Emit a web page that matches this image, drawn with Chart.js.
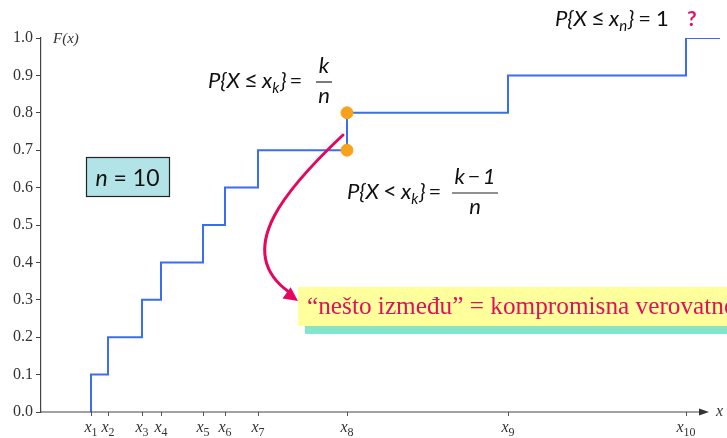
<!DOCTYPE html>
<html>
<head>
<meta charset="utf-8">
<script src="https://cdn.jsdelivr.net/npm/chart.js@4.4.1/dist/chart.umd.min.js"></script>
<style>
  html, body { margin: 0; padding: 0; background: #ffffff; }
  #c { display: block; }
</style>
</head>
<body>
<canvas id="c" width="727" height="438"></canvas>
<script>
// ---- data ----
const xPositions   = [50, 67, 101, 120, 162, 184, 217, 306, 467, 645]; // x1..x10 along the axis
const cdfValues    = [0.1, 0.2, 0.3, 0.4, 0.5, 0.6, 0.7, 0.8, 0.9, 1.0];
const xTickLabels  = ['1', '2', '3', '4', '5', '6', '7', '8', '9', '10'];
const yTickValues  = [0, 0.1, 0.2, 0.3, 0.4, 0.5, 0.6, 0.7, 0.8, 0.9, 1.0];
const highlightIndex  = 7;            // x8
const highlightValues = [0.7, 0.8];   // F just before and at x8
const xAxisMax = 679;

const stepData = [{ x: xPositions[0], y: 0 }]
  .concat(xPositions.map((x, i) => ({ x: x, y: cdfValues[i] })))
  .concat([{ x: xAxisMax, y: cdfValues[cdfValues.length - 1] }]);
const pointData = highlightValues.map(v => ({ x: xPositions[highlightIndex], y: v }));

const MATH = 'Lato';
const SERIF = '"Liberation Serif"';

function runs(ctx, x, y, parts) {
  let cx = x;
  for (const p of parts) {
    ctx.font = p.font;
    ctx.fillStyle = p.color || '#111';
    ctx.fillText(p.t, cx, y + (p.dy || 0));
    cx += ctx.measureText(p.t).width + (p.gap || 0);
  }
  return cx;
}
function runsWidth(ctx, parts) {
  let w = 0;
  for (const p of parts) { ctx.font = p.font; w += ctx.measureText(p.t).width + (p.gap || 0); }
  return w;
}
function fraction(ctx, cx, barY, num, den, barHalf) {
  ctx.textAlign = 'center';
  ctx.fillStyle = '#111';
  ctx.font = num.font; ctx.fillText(num.t, cx, barY - 9);
  ctx.font = den.font; ctx.fillText(den.t, cx, barY + 21);
  ctx.textAlign = 'left';
  ctx.strokeStyle = '#222'; ctx.lineWidth = 1.2;
  ctx.beginPath(); ctx.moveTo(cx - barHalf, barY); ctx.lineTo(cx + barHalf, barY); ctx.stroke();
}

const annotations = {
  id: 'annotations',
  afterDraw(chart) {
    const ctx = chart.ctx;
    const xs = chart.scales.x, ys = chart.scales.y;
    const y0 = ys.getPixelForValue(0);
    ctx.save();
    ctx.textBaseline = 'alphabetic';
    ctx.textAlign = 'left';

    // x axis line with arrow
    ctx.strokeStyle = '#444'; ctx.lineWidth = 1.2;
    ctx.beginPath(); ctx.moveTo(xs.left, y0); ctx.lineTo(701, y0); ctx.stroke();
    ctx.fillStyle = '#333';
    ctx.beginPath(); ctx.moveTo(709, y0); ctx.lineTo(699, y0 - 3.5); ctx.lineTo(699, y0 + 3.5); ctx.closePath(); ctx.fill();
    ctx.font = 'italic 16px ' + SERIF; ctx.fillStyle = '#333';
    ctx.fillText('x', 716, y0 + 4);

    // x tick labels (x with subscript)
    xPositions.forEach((v, i) => {
      const px = xs.getPixelForValue(v);
      const parts = [
        { t: 'x', font: 'italic 16px ' + SERIF, color: '#333' },
        { t: xTickLabels[i], font: '12px ' + SERIF, color: '#333', dy: 4 }
      ];
      const w = runsWidth(ctx, parts);
      runs(ctx, px - w / 2, y0 + 20, parts);
    });

    // F(x) label
    ctx.font = 'italic 15px ' + SERIF; ctx.fillStyle = '#333';
    ctx.fillText('F(x)', 53, 43);

    const I = 'italic 22px ' + MATH, R = '22px ' + MATH, S = 'italic 15px ' + MATH, REL = '24px ' + MATH;
    // formula 1
    runs(ctx, 208, 88, [
      { t: 'P{X', font: I, gap: 4 }, { t: '≤', font: REL, gap: 4 }, { t: 'x', font: I },
      { t: 'k', font: S, dy: 5, gap: 1 }, { t: '}', font: I, gap: 3 }, { t: '=', font: R }
    ]);
    fraction(ctx, 324, 82, { t: 'k', font: I }, { t: 'n', font: I }, 8);

    // formula 2
    runs(ctx, 347, 199, [
      { t: 'P{X', font: I, gap: 4 }, { t: '<', font: REL, gap: 4 }, { t: 'x', font: I },
      { t: 'k', font: S, dy: 5, gap: 1 }, { t: '}', font: I, gap: 3 }, { t: '=', font: R }
    ]);
    fraction(ctx, 475, 193, { t: 'k\u2009−\u20091', font: I }, { t: 'n', font: I }, 23);

    // formula 3
    runs(ctx, 555, 26, [
      { t: 'P{X', font: I, gap: 4 }, { t: '≤', font: REL, gap: 4 }, { t: 'x', font: I },
      { t: 'n', font: S, dy: 5, gap: 1 }, { t: '}', font: I, gap: 4 }, { t: '=', font: R, gap: 5 }, { t: '1', font: R }
    ]);
    ctx.font = 'bold 21px ' + MATH; ctx.fillStyle = '#e0146a';
    ctx.fillText('?', 687, 26);

    // n = 10 box
    ctx.fillStyle = '#b2e3e6';
    ctx.fillRect(86, 157, 83, 39);
    ctx.strokeStyle = '#222'; ctx.lineWidth = 1.2;
    ctx.strokeRect(86.5, 157.5, 83, 39);
    const nParts = [{ t: 'n', font: 'italic 23px ' + MATH }, { t: ' = 10', font: '23px ' + MATH }];
    const nw = runsWidth(ctx, nParts);
    runs(ctx, 86 + 83 / 2 - nw / 2, 186, nParts);

    // highlighted note box
    ctx.fillStyle = '#84e6c8';
    ctx.fillRect(305, 300, 727 - 305, 34);
    ctx.fillStyle = '#ffff9c';
    ctx.fillRect(298, 287, 727 - 298, 39);
    const note = '“nešto između” = kompromisna verovatnoća';
    const visible = '“nešto između” = kompromisna verovatn';
    ctx.font = '20px ' + SERIF;
    const size = 20 * 417 / ctx.measureText(visible).width;
    ctx.font = size.toFixed(2) + 'px ' + SERIF;
    ctx.fillStyle = '#e0105e';
    ctx.fillText(note, 307, 314);

    // curved arrow
    ctx.strokeStyle = '#e3085e'; ctx.lineWidth = 3; ctx.lineCap = 'round';
    ctx.beginPath();
    ctx.moveTo(343, 135);
    ctx.bezierCurveTo(290, 185, 230, 250, 289, 292);
    ctx.stroke();
    const ang = Math.atan2(292 - 250, 289 - 230);
    const tipX = 298, tipY = 301, L = 14, Wd = 7;
    ctx.fillStyle = '#e3085e';
    ctx.beginPath();
    ctx.moveTo(tipX, tipY);
    ctx.lineTo(tipX - L * Math.cos(ang) + Wd * Math.sin(ang), tipY - L * Math.sin(ang) - Wd * Math.cos(ang));
    ctx.lineTo(tipX - L * Math.cos(ang) - Wd * Math.sin(ang), tipY - L * Math.sin(ang) + Wd * Math.cos(ang));
    ctx.closePath(); ctx.fill();

    ctx.restore();
  }
};

new Chart(document.getElementById('c'), {
  type: 'line',
  data: {
    datasets: [
      {
        data: stepData,
        stepped: 'before',
        borderColor: '#3a6df0',
        borderWidth: 2,
        pointRadius: 0,
        fill: false,
        order: 2
      },
      {
        type: 'scatter',
        data: pointData,
        backgroundColor: '#f7a21c',
        borderColor: '#f7a21c',
        pointRadius: 6,
        order: 1
      }
    ]
  },
  options: {
    responsive: false,
    animation: false,
    devicePixelRatio: 1,
    layout: { padding: { top: 38, right: 7, left: 0, bottom: 0 } },
    plugins: { legend: { display: false }, tooltip: { enabled: false } },
    scales: {
      x: {
        type: 'linear',
        min: 0,
        max: xAxisMax,
        afterBuildTicks: s => { s.ticks = xPositions.map(v => ({ value: v })); },
        ticks: { display: false },
        grid: { drawOnChartArea: false, drawTicks: true, tickLength: 4, color: '#555' },
        border: { display: false },
        afterFit: s => { s.height = 26; }
      },
      y: {
        min: 0,
        max: 1,
        afterBuildTicks: s => { s.ticks = yTickValues.map(v => ({ value: v })); },
        ticks: {
          callback: v => Number(v).toFixed(1),
          font: { family: 'Liberation Serif', size: 16 },
          color: '#333',
          padding: 3
        },
        grid: { drawOnChartArea: false, tickLength: 5, color: '#444' },
        border: { color: '#444', width: 1.2 },
        afterFit: s => { s.width = 41; }
      }
    }
  },
  plugins: [annotations]
});
</script>
</body>
</html>
